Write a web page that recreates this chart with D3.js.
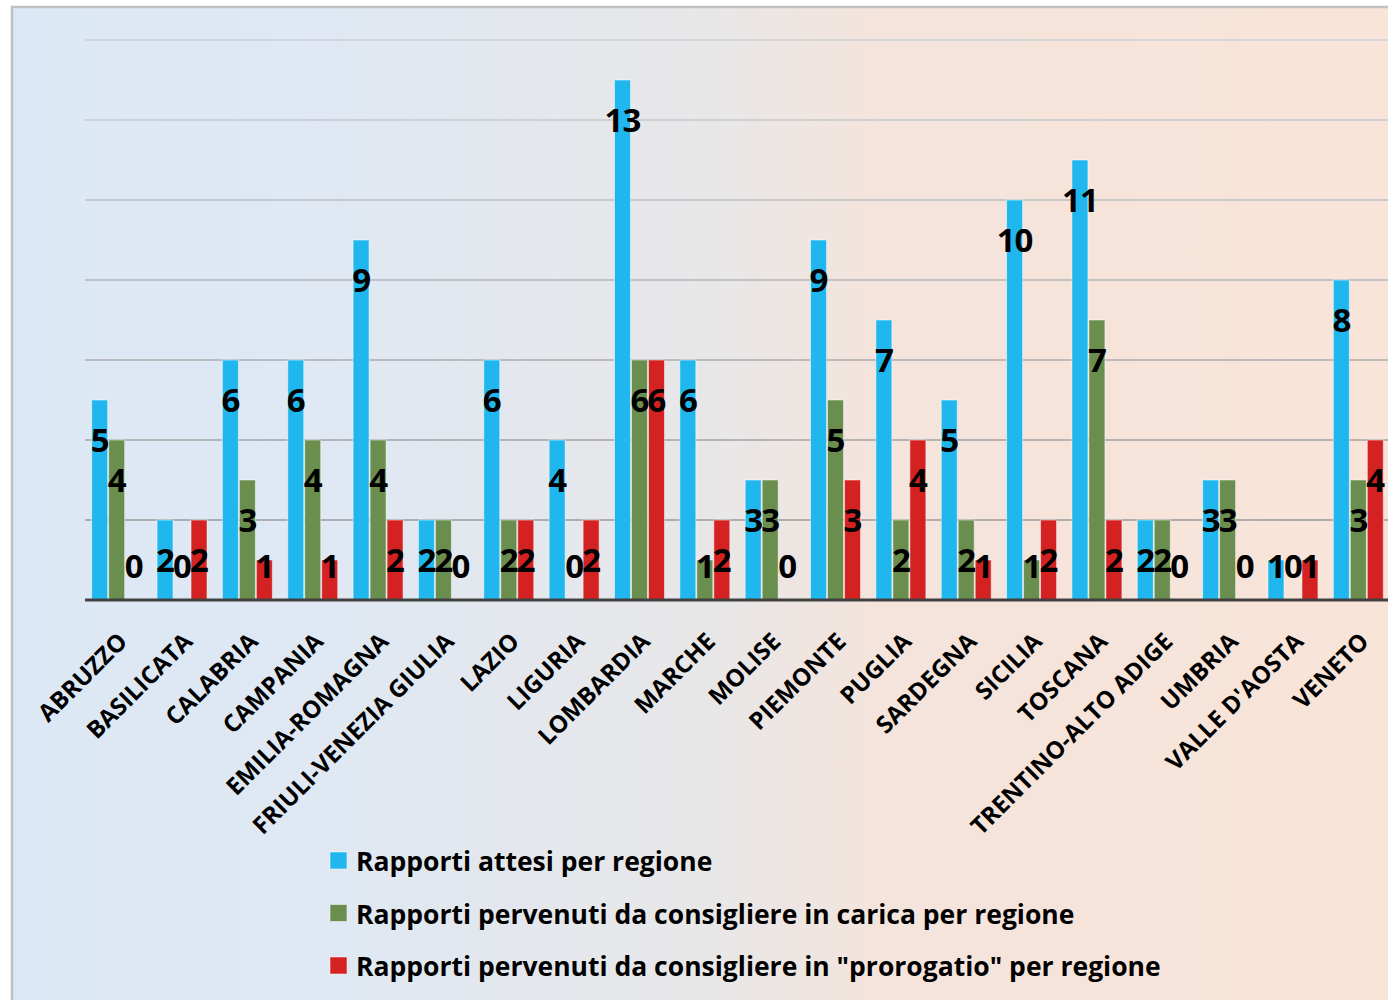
<!DOCTYPE html>
<html>
<head>
<meta charset="utf-8">
<script src="https://cdn.jsdelivr.net/npm/d3@7"></script>
<style>
    body { margin: 0; background: #ffffff; }
    svg text { font-family: "Open Sans", Lato, sans-serif; font-weight: bold; }
</style>
</head>
<body>
<div id="chart"></div>
<script>
// categories and values
var regions = ["ABRUZZO", "BASILICATA", "CALABRIA", "CAMPANIA", "EMILIA-ROMAGNA",
    "FRIULI-VENEZIA GIULIA", "LAZIO", "LIGURIA", "LOMBARDIA", "MARCHE", "MOLISE",
    "PIEMONTE", "PUGLIA", "SARDEGNA", "SICILIA", "TOSCANA", "TRENTINO-ALTO ADIGE",
    "UMBRIA", "VALLE D'AOSTA", "VENETO"];
var attesi    = [5, 2, 6, 6, 9, 2, 6, 4, 13, 6, 3, 9, 7, 5, 10, 11, 2, 3, 1, 8];
var inCarica  = [4, 0, 3, 4, 4, 2, 2, 0, 6, 1, 3, 5, 2, 2, 1, 7, 2, 3, 0, 3];
var prorogatio = [0, 2, 1, 1, 2, 0, 2, 2, 6, 2, 0, 3, 4, 1, 2, 2, 0, 0, 1, 4];
var seriesNames = ["Rapporti attesi per regione",
    "Rapporti pervenuti da consigliere in carica per regione",
    "Rapporti pervenuti da consigliere in \"prorogatio\" per regione"];
var gridTicks = [0, 2, 4, 6, 8, 10, 12, 14];

var svgWidth = 1388, svgHeight = 1000;
var colors = ["#20b7ef", "#6a8e4e", "#d42222"];

var svg = d3.select("#chart").append("svg")
    .attr("width", svgWidth)
    .attr("height", svgHeight);

// background panel with gradient
var defs = svg.append("defs");
var grad = defs.append("linearGradient").attr("id", "bg")
    .attr("x1", "0%").attr("x2", "100%").attr("y1", "0%").attr("y2", "0%");
grad.append("stop").attr("offset", "0%").attr("stop-color", "#dce8f5");
grad.append("stop").attr("offset", "22%").attr("stop-color", "#dfe8f3");
grad.append("stop").attr("offset", "50%").attr("stop-color", "#e8e7e8");
grad.append("stop").attr("offset", "62%").attr("stop-color", "#f4e4dc");
grad.append("stop").attr("offset", "100%").attr("stop-color", "#f9e4d8");

svg.append("rect")
    .attr("x", 12).attr("y", 7)
    .attr("width", svgWidth + 10).attr("height", svgHeight + 10)
    .attr("fill", "url(#bg)")
    .attr("stroke", "#c0c0c0")
    .attr("stroke-width", 2.5);

var x0 = d3.scaleBand()
    .domain(regions)
    .range([84, 1391])
    .paddingInner(0.22)
    .paddingOuter(0.11);

var x1 = d3.scaleBand()
    .domain([0, 1, 2])
    .range([0, x0.bandwidth()]);

var y = d3.scaleLinear()
    .domain([0, 14])
    .range([600, 40]);

var gridColor = d3.scaleLinear().domain([2, 14]).range(["#9a9a9a", "#cfd2d6"]);

// gridlines
svg.append("g").selectAll("line")
    .data(gridTicks.filter(function(t) { return t > 0; }))
    .enter().append("line")
    .attr("x1", 85).attr("x2", svgWidth)
    .attr("y1", function(d) { return y(d); })
    .attr("y2", function(d) { return y(d); })
    .attr("stroke", function(d) { return gridColor(d); })
    .attr("stroke-width", 1.5);

var rows = regions.map(function(r, i) {
    return { region: r, values: [attesi[i], inCarica[i], prorogatio[i]] };
});

var groups = svg.append("g").selectAll("g")
    .data(rows)
    .enter().append("g")
    .attr("transform", function(d) { return "translate(" + x0(d.region) + ",0)"; });

groups.selectAll("rect")
    .data(function(d) { return d.values; })
    .enter().append("rect")
    .attr("x", function(d, j) { return x1(j) + 0.5; })
    .attr("width", x1.bandwidth() - 1)
    .attr("y", function(d) { return y(d); })
    .attr("height", function(d) { return y(0) - y(d); })
    .attr("fill", function(d, j) { return colors[j]; })
    .attr("stroke", "#ffffff")
    .attr("stroke-opacity", 0.5)
    .attr("stroke-width", 1);

// baseline axis
svg.append("line")
    .attr("x1", 85).attr("x2", svgWidth)
    .attr("y1", y(0)).attr("y2", y(0))
    .attr("stroke", "#404040")
    .attr("stroke-width", 3);

// value labels
groups.selectAll("text.val")
    .data(function(d) { return d.values; })
    .enter().append("text")
    .attr("class", "val")
    .attr("x", function(d, j) { return x1(j) + x1.bandwidth() / 2; })
    .attr("y", function(d) { return Math.min(y(d) + 52, y(0) - 22); })
    .attr("text-anchor", "middle")
    .attr("font-size", "33px")
    .attr("font-weight", 800)
    .attr("letter-spacing", "-1px")
    .attr("fill", "#000000")
    .text(function(d) { return d; });

// category labels
svg.append("g").selectAll("text")
    .data(regions)
    .enter().append("text")
    .attr("transform", function(d) {
        return "translate(" + (x0(d) + x0.bandwidth() / 2 + 12) + "," + 643 + ") rotate(-45)";
    })
    .attr("text-anchor", "end")
    .attr("font-size", "24px")
    .attr("fill", "#000000")
    .text(function(d) { return d; });

// legend
var legend = svg.append("g").selectAll("g")
    .data(seriesNames)
    .enter().append("g")
    .attr("transform", function(d, i) { return "translate(330," + (852 + i * 52.5) + ")"; });

legend.append("rect")
    .attr("width", 17).attr("height", 17)
    .attr("fill", function(d, i) { return colors[i]; })
    .attr("stroke", "#ffffff")
    .attr("stroke-opacity", 0.5);

legend.append("text")
    .attr("x", 26).attr("y", 19)
    .attr("font-size", "26.5px")
    .attr("fill", "#000000")
    .text(function(d) { return d; });
</script>
</body>
</html>
